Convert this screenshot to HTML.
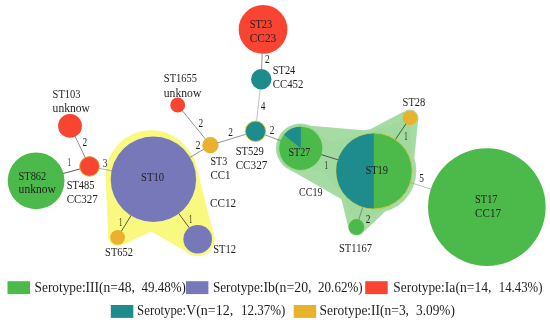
<!DOCTYPE html><html><head><meta charset="utf-8"><title>MST</title>
<style>html,body{margin:0;padding:0;background:#fff}svg{display:block;will-change:transform}text{font-family:"Liberation Serif","DejaVu Serif",serif;fill:#211d1e}</style></head><body>
<svg width="550" height="324" viewBox="0 0 550 324">
<rect width="550" height="324" fill="#fff"/>
<g fill="#f9f980">
<circle cx="151.2" cy="175.9" r="45.6"/>
<circle cx="117.2" cy="237.0" r="9.0"/>
<circle cx="197.7" cy="239.2" r="17.1"/>
<polygon points="105.7,178.0 108.2,237.0 117.6,237.4 123.9,244.2 151.2,231.4 164.0,214.0 153.6,179.0"/>
<polygon points="193.8,156.0 214.5,238.0 197.7,239.2 192.0,255.1 151.2,231.4 140.0,214.0 153.6,179.0"/>
</g>
<g fill="#a6dca4">
<circle cx="300.3" cy="148.0" r="24.4"/>
<circle cx="374.4" cy="171.0" r="42.0"/>
<circle cx="409.9" cy="117.9" r="8.5"/>
<circle cx="356.6" cy="227.2" r="8.4"/>
<polygon points="296.0,124.6 378.0,131.5 374.4,171.0 354.6,206.8 290.0,169.8 300.8,148.3"/>
<polygon points="403.3,111.7 365.0,132.1 374.4,171.0 413.9,162.3 418.3,118.3 409.9,117.9"/>
<polygon points="348.2,227.2 339.5,191.0 374.4,171.0 389.5,207.5 363.3,232.2 356.6,227.2"/>
</g>
<circle cx="300.8" cy="148.3" r="23.0" fill="#9bd799"/>
<g fill="#a0da9e">
<polygon points="336.4,171.0 336.4,169.7 336.5,168.4 336.6,167.0 336.8,165.7 337.0,164.4 337.2,163.1 337.5,161.8 337.9,160.6 338.3,159.3 338.7,158.0 339.2,156.8 339.7,155.6 340.2,154.4 340.8,153.2 341.5,152.1 342.2,150.9 342.9,149.8 343.6,148.7 344.4,147.7 345.3,146.6 346.1,145.6 347.0,144.7 348.0,143.7 348.9,142.8 349.9,142.0 351.0,141.1 352.0,140.3 353.1,139.6 354.2,138.9 355.4,138.2 356.5,137.5 357.7,136.9 358.9,136.4 360.1,135.9 361.3,135.4 409.9,117.9 409.9,117.9 409.9,117.9 409.9,117.9 409.9,117.9 409.9,117.9 409.9,117.9 409.9,117.9 409.9,117.9 409.9,117.9 409.9,117.9 409.9,117.9 409.9,117.9 409.9,117.9 409.9,117.9 409.9,117.9 409.9,117.9 409.9,117.9 409.9,117.9 409.9,117.9 409.9,117.9 409.9,117.9 409.9,117.9 409.9,117.9 409.9,117.9 409.9,117.9 409.9,117.9 409.9,117.9 409.9,117.9 409.9,117.9 409.9,117.9 409.9,117.9 409.9,117.9 409.9,117.9 409.9,117.9 409.9,117.9 409.9,117.9 409.9,117.9 409.9,117.9 409.9,117.9 409.9,117.9 409.9,117.9 409.9,117.9 409.9,117.9 409.9,117.9 409.9,117.9 409.9,117.9 409.9,117.9 409.9,117.9 409.9,117.9 409.9,117.9 409.9,117.9 409.9,117.9 409.9,117.9 409.9,117.9 412.2,169.7 412.2,171.0 412.2,172.3 412.1,173.6 412.0,175.0 411.8,176.3 411.6,177.6 411.4,178.9 411.1,180.2 410.7,181.4 410.3,182.7 409.9,184.0 409.4,185.2 408.9,186.4 408.4,187.6 407.8,188.8 407.1,189.9 406.4,191.1 405.7,192.2 405.0,193.3 404.2,194.3 403.3,195.4 402.5,196.4 401.6,197.3 400.6,198.3 399.7,199.2 398.7,200.0 397.6,200.9 396.6,201.7 395.5,202.4 394.4,203.1 393.2,203.8 392.1,204.5 390.9,205.1 389.7,205.6 388.5,206.1 387.3,206.6 386.0,207.0 384.7,207.4 383.5,207.8 382.2,208.1 380.9,208.3 379.6,208.5 378.3,208.7 376.9,208.8 375.6,208.9 374.3,208.9 373.0,208.9 371.7,208.8 370.3,208.7 369.0,208.5 367.7,208.3 366.4,208.1 365.1,207.8 363.9,207.4 362.6,207.0 361.3,206.6 360.1,206.1 358.9,205.6 357.7,205.1 356.5,204.5 355.4,203.8 354.2,203.1 353.1,202.4 352.0,201.7 351.0,200.9 349.9,200.0 348.9,199.2 348.0,198.3 347.0,197.3 346.1,196.4 345.3,195.4 344.4,194.3 343.6,193.3 342.9,192.2 342.2,191.1 341.5,189.9 340.8,188.8 340.2,187.6 339.7,186.4 339.2,185.2 338.7,184.0 338.3,182.7 337.9,181.4 337.5,180.2 337.2,178.9 337.0,177.6 336.8,176.3 336.6,175.0 336.5,173.6 336.4,172.3"/>
<polygon points="336.4,171.0 336.4,169.7 336.5,168.4 336.6,167.0 336.8,165.7 337.0,164.4 337.2,163.1 337.5,161.8 337.9,160.6 338.3,159.3 338.7,158.0 339.2,156.8 339.7,155.6 340.2,154.4 340.8,153.2 341.5,152.1 342.2,150.9 342.9,149.8 343.6,148.7 344.4,147.7 345.3,146.6 346.1,145.6 347.0,144.7 348.0,143.7 348.9,142.8 349.9,142.0 351.0,141.1 352.0,140.3 353.1,139.6 354.2,138.9 355.4,138.2 356.5,137.5 357.7,136.9 358.9,136.4 360.1,135.9 361.3,135.4 362.6,135.0 363.9,134.6 365.1,134.2 366.4,133.9 367.7,133.7 369.0,133.5 370.3,133.3 371.7,133.2 373.0,133.1 374.3,133.1 375.6,133.1 376.9,133.2 378.3,133.3 379.6,133.5 380.9,133.7 382.2,133.9 383.5,134.2 384.7,134.6 386.0,135.0 387.3,135.4 388.5,135.9 389.7,136.4 390.9,136.9 392.1,137.5 393.2,138.2 394.4,138.9 395.5,139.6 396.6,140.3 397.6,141.1 398.7,142.0 399.7,142.8 400.6,143.7 401.6,144.7 402.5,145.6 403.3,146.6 404.2,147.7 405.0,148.7 405.7,149.8 406.4,150.9 407.1,152.0 407.8,153.2 408.4,154.4 408.9,155.6 409.4,156.8 409.9,158.0 410.3,159.3 410.7,160.6 411.1,161.8 411.4,163.1 411.6,164.4 411.8,165.7 412.0,167.0 412.1,168.4 412.2,169.7 412.2,171.0 412.2,172.3 412.1,173.6 412.0,175.0 411.8,176.3 411.6,177.6 411.4,178.9 411.1,180.2 410.7,181.4 410.3,182.7 409.9,184.0 409.4,185.2 408.9,186.4 408.4,187.6 407.8,188.8 407.1,189.9 406.4,191.1 405.7,192.2 405.0,193.3 404.2,194.3 403.3,195.4 402.5,196.4 401.6,197.3 400.6,198.3 399.7,199.2 398.7,200.0 397.6,200.9 396.6,201.7 395.5,202.4 394.4,203.1 356.4,227.0 356.4,227.0 356.4,227.0 356.4,227.0 356.4,227.0 356.4,227.0 356.4,227.0 356.4,227.0 356.4,227.0 356.4,227.0 356.4,227.0 356.4,227.0 356.4,227.0 356.4,227.0 356.4,227.0 356.4,227.0 356.4,227.0 356.4,227.0 356.4,227.0 356.4,227.0 356.4,227.0 356.4,227.0 356.4,227.0 356.4,227.0 356.4,227.0 356.4,227.0 356.4,227.0 356.4,227.0 356.4,227.0 356.4,227.0 356.4,227.0 356.4,227.0 356.4,227.0 356.4,227.0 356.4,227.0 356.4,227.0 356.4,227.0 356.4,227.0 356.4,227.0 356.4,227.0 356.4,227.0 356.4,227.0 356.4,227.0 356.4,227.0 356.4,227.0 356.4,227.0 356.4,227.0 356.4,227.0 356.4,227.0 356.4,227.0 356.4,227.0 339.2,185.2 338.7,184.0 338.3,182.7 337.9,181.4 337.5,180.2 337.2,178.9 337.0,177.6 336.8,176.3 336.6,175.0 336.5,173.6 336.4,172.3"/>
<polygon points="300.8,148.3 300.8,148.3 300.8,148.3 300.8,148.3 300.8,148.3 300.8,148.3 300.8,148.3 300.8,148.3 300.8,148.3 300.8,148.3 300.8,148.3 300.8,148.3 300.8,148.3 300.8,148.3 300.8,148.3 300.8,148.3 300.8,148.3 300.8,148.3 300.8,148.3 300.8,148.3 300.8,148.3 300.8,148.3 300.8,148.3 300.8,148.3 300.8,148.3 300.8,148.3 300.8,148.3 300.8,148.3 300.8,148.3 300.8,148.3 300.8,148.3 300.8,148.3 300.8,148.3 300.8,148.3 300.8,148.3 300.8,148.3 300.8,148.3 300.8,148.3 300.8,148.3 300.8,148.3 366.4,133.9 367.7,133.7 369.0,133.5 370.3,133.3 371.7,133.2 373.0,133.1 374.3,133.1 375.6,133.1 376.9,133.2 378.3,133.3 379.6,133.5 380.9,133.7 382.2,133.9 383.5,134.2 384.7,134.6 386.0,135.0 387.3,135.4 388.5,135.9 389.7,136.4 390.9,136.9 392.1,137.5 393.2,138.2 394.4,138.9 395.5,139.6 396.6,140.3 397.6,141.1 398.7,142.0 399.7,142.8 400.6,143.7 401.6,144.7 402.5,145.6 403.3,146.6 404.2,147.7 405.0,148.7 405.7,149.8 406.4,150.9 407.1,152.0 407.8,153.2 408.4,154.4 408.9,155.6 409.4,156.8 409.9,158.0 410.3,159.3 410.7,160.6 411.1,161.8 411.4,163.1 411.6,164.4 411.8,165.7 412.0,167.0 412.1,168.4 412.2,169.7 412.2,171.0 412.2,172.3 412.1,173.6 412.0,175.0 411.8,176.3 411.6,177.6 411.4,178.9 411.1,180.2 410.7,181.4 410.3,182.7 409.9,184.0 409.4,185.2 408.9,186.4 408.4,187.6 407.8,188.8 407.1,189.9 406.4,191.1 405.7,192.2 405.0,193.3 404.2,194.3 403.3,195.4 402.5,196.4 401.6,197.3 400.6,198.3 399.7,199.2 398.7,200.0 397.6,200.9 396.6,201.7 395.5,202.4 394.4,203.1 393.2,203.8 392.1,204.5 390.9,205.1 389.7,205.6 388.5,206.1 387.3,206.6 386.0,207.0 384.7,207.4 383.5,207.8 382.2,208.1 380.9,208.3 379.6,208.5 378.3,208.7 376.9,208.8 375.6,208.9 374.3,208.9 373.0,208.9 371.7,208.8 370.3,208.7 369.0,208.5 367.7,208.3 366.4,208.1 365.1,207.8 363.9,207.4 362.6,207.0 361.3,206.6 360.1,206.1 358.9,205.6 357.7,205.1 356.5,204.5 355.4,203.8 354.2,203.1 353.1,202.4 352.0,201.7 351.0,200.9 349.9,200.0 348.9,199.2 348.0,198.3 347.0,197.3 300.8,148.3 300.8,148.3 300.8,148.3 300.8,148.3 300.8,148.3 300.8,148.3 300.8,148.3 300.8,148.3 300.8,148.3 300.8,148.3 300.8,148.3 300.8,148.3 300.8,148.3 300.8,148.3 300.8,148.3 300.8,148.3 300.8,148.3 300.8,148.3 300.8,148.3 300.8,148.3 300.8,148.3 300.8,148.3"/>
<polygon points="279.2,148.3 279.2,147.5 279.3,146.8 279.3,146.0 279.4,145.3 279.5,144.5 279.7,143.8 279.8,143.1 280.0,142.3 280.3,141.6 280.5,140.9 280.8,140.2 281.1,139.5 281.4,138.8 281.7,138.2 282.1,137.5 282.5,136.9 282.9,136.2 283.3,135.6 283.8,135.0 284.3,134.4 284.7,133.8 285.3,133.3 285.8,132.8 286.3,132.2 286.9,131.8 287.5,131.3 288.1,130.8 288.7,130.4 289.4,130.0 290.0,129.6 290.7,129.2 291.3,128.9 292.0,128.6 292.7,128.3 293.4,128.0 294.1,127.8 294.8,127.5 295.6,127.3 296.3,127.2 297.0,127.0 297.8,126.9 298.5,126.8 299.3,126.8 300.0,126.7 300.8,126.7 301.6,126.7 302.3,126.8 303.1,126.8 303.8,126.9 304.6,127.0 305.3,127.2 306.0,127.3 306.8,127.5 307.5,127.8 308.2,128.0 308.9,128.3 309.6,128.6 310.3,128.9 310.9,129.2 311.6,129.6 312.2,130.0 312.9,130.4 374.3,171.0 374.3,171.0 374.3,171.0 374.3,171.0 374.3,171.0 374.3,171.0 374.3,171.0 374.3,171.0 374.3,171.0 374.3,171.0 374.3,171.0 374.3,171.0 374.3,171.0 374.3,171.0 374.3,171.0 374.3,171.0 374.3,171.0 374.3,171.0 374.3,171.0 374.3,171.0 374.3,171.0 374.3,171.0 374.3,171.0 374.3,171.0 374.3,171.0 374.3,171.0 374.3,171.0 374.3,171.0 374.3,171.0 374.3,171.0 374.3,171.0 374.3,171.0 374.3,171.0 374.3,171.0 374.3,171.0 374.3,171.0 374.3,171.0 374.3,171.0 374.3,171.0 374.3,171.0 374.3,171.0 374.3,171.0 374.3,171.0 374.3,171.0 374.3,171.0 374.3,171.0 374.3,171.0 374.3,171.0 374.3,171.0 374.3,171.0 374.3,171.0 374.3,171.0 374.3,171.0 374.3,171.0 374.3,171.0 374.3,171.0 374.3,171.0 374.3,171.0 374.3,171.0 374.3,171.0 374.3,171.0 374.3,171.0 374.3,171.0 374.3,171.0 374.3,171.0 374.3,171.0 374.3,171.0 374.3,171.0 374.3,171.0 374.3,171.0 374.3,171.0 374.3,171.0 374.3,171.0 374.3,171.0 300.8,169.9 300.0,169.9 299.3,169.8 298.5,169.8 297.8,169.7 297.0,169.6 296.3,169.4 295.6,169.3 294.8,169.1 294.1,168.8 293.4,168.6 292.7,168.3 292.0,168.0 291.3,167.7 290.7,167.4 290.0,167.0 289.4,166.6 288.7,166.2 288.1,165.8 287.5,165.3 286.9,164.8 286.3,164.4 285.8,163.8 285.3,163.3 284.7,162.8 284.3,162.2 283.8,161.6 283.3,161.0 282.9,160.4 282.5,159.7 282.1,159.1 281.7,158.4 281.4,157.8 281.1,157.1 280.8,156.4 280.5,155.7 280.3,155.0 280.0,154.3 279.8,153.5 279.7,152.8 279.5,152.1 279.4,151.3 279.3,150.6 279.3,149.8 279.2,149.1"/>
</g>
<g fill="none">
<line x1="36.1" y1="180.8" x2="89.5" y2="166.4" stroke="#3a3a3a" stroke-width="0.85"/>
<line x1="70.0" y1="125.9" x2="89.5" y2="166.4" stroke="#707070" stroke-width="0.75"/>
<line x1="89.5" y1="166.4" x2="153.4" y2="179.2" stroke="#8e8e8e" stroke-width="0.7"/>
<line x1="153.4" y1="179.2" x2="117.6" y2="237.4" stroke="#3a3a3a" stroke-width="0.85"/>
<line x1="153.4" y1="179.2" x2="197.7" y2="239.2" stroke="#3a3a3a" stroke-width="0.85"/>
<line x1="153.4" y1="179.2" x2="210.4" y2="145.2" stroke="#707070" stroke-width="0.75"/>
<line x1="210.4" y1="145.2" x2="177.7" y2="105.0" stroke="#707070" stroke-width="0.75"/>
<line x1="210.4" y1="145.2" x2="255.5" y2="131.3" stroke="#707070" stroke-width="0.75"/>
<line x1="255.5" y1="131.3" x2="261.2" y2="79.3" stroke="#a8a8a8" stroke-width="0.7"/>
<line x1="261.2" y1="79.3" x2="263.1" y2="29.4" stroke="#707070" stroke-width="0.75"/>
<line x1="255.5" y1="131.3" x2="300.8" y2="148.3" stroke="#707070" stroke-width="0.75"/>
<line x1="300.8" y1="148.3" x2="374.3" y2="171.0" stroke="#3a3a3a" stroke-width="0.85"/>
<line x1="374.3" y1="171.0" x2="409.9" y2="117.9" stroke="#3a3a3a" stroke-width="0.85"/>
<line x1="374.3" y1="171.0" x2="356.4" y2="227.0" stroke="#707070" stroke-width="0.75"/>
<line x1="374.3" y1="171.0" x2="486.9" y2="207.1" stroke="#a0a0a0" stroke-width="0.7"/>
</g>
<circle cx="36.10" cy="180.80" r="28.40" fill="#4cba4a"/>
<circle cx="70.00" cy="125.90" r="11.90" fill="#f94432"/>
<circle cx="89.50" cy="166.40" r="9.80" fill="#f94432" stroke="#d2a62c" stroke-width="0.9"/>
<circle cx="153.40" cy="179.20" r="42.70" fill="#7678ba"/>
<circle cx="117.60" cy="237.40" r="7.40" fill="#e8b22c"/>
<circle cx="197.70" cy="239.20" r="14.30" fill="#7678ba"/>
<circle cx="210.40" cy="145.20" r="8.15" fill="#e8b22c"/>
<circle cx="177.70" cy="105.05" r="7.45" fill="#f94432"/>
<circle cx="255.50" cy="131.30" r="10.25" fill="#1e8c8c" stroke="#e6d23a" stroke-width="0.9"/>
<circle cx="261.25" cy="79.30" r="10.20" fill="#1e8c8c"/>
<circle cx="263.05" cy="29.40" r="24.40" fill="#f94432"/>
<circle cx="300.80" cy="148.30" r="21.60" fill="#4cba4a"/>
<circle cx="374.30" cy="171.00" r="37.90" fill="#4cba4a" stroke="#cdc63e" stroke-width="1.0"/>
<circle cx="409.90" cy="117.90" r="7.30" fill="#e8b22c"/>
<circle cx="356.40" cy="227.00" r="7.90" fill="#4cba4a"/>
<circle cx="486.85" cy="207.10" r="58.80" fill="#4cba4a"/>
<path d="M300.80,148.30 L300.80,126.70 A21.60,21.60 0 0 0 283.91,134.83 Z" fill="#1e8c8c"/>
<path d="M373.80,133.40 A37.60,37.60 0 0 0 373.80,208.60 Z" fill="#1e8c8c"/>
<text x="18.50" y="180.00" font-size="12" textLength="27.80" lengthAdjust="spacingAndGlyphs">ST862</text>
<text x="18.60" y="193.00" font-size="12" textLength="37.30" lengthAdjust="spacingAndGlyphs">unknow</text>
<text x="52.60" y="98.00" font-size="12" textLength="27.80" lengthAdjust="spacingAndGlyphs">ST103</text>
<text x="52.60" y="112.00" font-size="12" textLength="37.30" lengthAdjust="spacingAndGlyphs">unknow</text>
<text x="66.70" y="189.00" font-size="12" textLength="27.80" lengthAdjust="spacingAndGlyphs">ST485</text>
<text x="66.70" y="203.00" font-size="12" textLength="31.10" lengthAdjust="spacingAndGlyphs">CC327</text>
<text x="141.10" y="181.00" font-size="12" textLength="23.00" lengthAdjust="spacingAndGlyphs">ST10</text>
<text x="105.10" y="256.00" font-size="12" textLength="27.90" lengthAdjust="spacingAndGlyphs">ST652</text>
<text x="213.20" y="253.00" font-size="12" textLength="22.80" lengthAdjust="spacingAndGlyphs">ST12</text>
<text x="210.00" y="207.00" font-size="12" textLength="26.10" lengthAdjust="spacingAndGlyphs">CC12</text>
<text x="210.40" y="165.00" font-size="12" textLength="16.80" lengthAdjust="spacingAndGlyphs">ST3</text>
<text x="210.40" y="179.00" font-size="12" textLength="20.10" lengthAdjust="spacingAndGlyphs">CC1</text>
<text x="163.80" y="82.00" font-size="12" textLength="33.30" lengthAdjust="spacingAndGlyphs">ST1655</text>
<text x="163.80" y="97.00" font-size="12" textLength="37.50" lengthAdjust="spacingAndGlyphs">unknow</text>
<text x="235.65" y="155.00" font-size="12" textLength="28.15" lengthAdjust="spacingAndGlyphs">ST529</text>
<text x="235.65" y="169.00" font-size="12" textLength="31.75" lengthAdjust="spacingAndGlyphs">CC327</text>
<text x="272.85" y="74.00" font-size="12" textLength="22.45" lengthAdjust="spacingAndGlyphs">ST24</text>
<text x="272.85" y="88.00" font-size="12" textLength="30.45" lengthAdjust="spacingAndGlyphs">CC452</text>
<text x="249.70" y="28.00" font-size="12" textLength="22.40" lengthAdjust="spacingAndGlyphs">ST23</text>
<text x="249.70" y="42.00" font-size="12" textLength="26.60" lengthAdjust="spacingAndGlyphs">CC23</text>
<text x="288.50" y="156.00" font-size="12" textLength="21.80" lengthAdjust="spacingAndGlyphs">ST27</text>
<text x="365.40" y="174.00" font-size="12" textLength="22.65" lengthAdjust="spacingAndGlyphs">ST19</text>
<text x="402.60" y="106.00" font-size="12" textLength="22.70" lengthAdjust="spacingAndGlyphs">ST28</text>
<text x="339.00" y="252.00" font-size="12" textLength="32.90" lengthAdjust="spacingAndGlyphs">ST1167</text>
<text x="299.00" y="196.00" font-size="12" textLength="23.60" lengthAdjust="spacingAndGlyphs">CC19</text>
<text x="475.10" y="203.00" font-size="12" textLength="22.40" lengthAdjust="spacingAndGlyphs">ST17</text>
<text x="475.10" y="217.00" font-size="12" textLength="25.90" lengthAdjust="spacingAndGlyphs">CC17</text>
<text x="67.60" y="165.60" font-size="11.8" textLength="3.4" lengthAdjust="spacingAndGlyphs">1</text>
<text x="82.60" y="145.90" font-size="11.8" textLength="4.7" lengthAdjust="spacingAndGlyphs">2</text>
<text x="102.70" y="166.90" font-size="11.8" textLength="4.7" lengthAdjust="spacingAndGlyphs">3</text>
<text x="119.10" y="226.00" font-size="11.8" textLength="3.4" lengthAdjust="spacingAndGlyphs">1</text>
<text x="189.00" y="222.50" font-size="11.8" textLength="3.4" lengthAdjust="spacingAndGlyphs">1</text>
<text x="195.70" y="148.90" font-size="11.8" textLength="4.7" lengthAdjust="spacingAndGlyphs">2</text>
<text x="198.40" y="127.15" font-size="11.8" textLength="4.7" lengthAdjust="spacingAndGlyphs">2</text>
<text x="228.30" y="136.00" font-size="11.8" textLength="4.7" lengthAdjust="spacingAndGlyphs">2</text>
<text x="260.80" y="109.90" font-size="11.8" textLength="4.7" lengthAdjust="spacingAndGlyphs">4</text>
<text x="265.00" y="62.60" font-size="11.8" textLength="4.7" lengthAdjust="spacingAndGlyphs">2</text>
<text x="269.80" y="133.80" font-size="11.8" textLength="4.7" lengthAdjust="spacingAndGlyphs">2</text>
<text x="324.40" y="168.50" font-size="11.8" textLength="3.4" lengthAdjust="spacingAndGlyphs">1</text>
<text x="404.30" y="139.60" font-size="11.8" textLength="3.4" lengthAdjust="spacingAndGlyphs">1</text>
<text x="365.70" y="222.80" font-size="11.8" textLength="4.7" lengthAdjust="spacingAndGlyphs">2</text>
<text x="419.30" y="181.75" font-size="11.8" textLength="4.7" lengthAdjust="spacingAndGlyphs">5</text>
<rect x="7.5" y="281.2" width="22.5" height="12.9" fill="#4cba4a"/>
<text y="292.0" font-size="14.3"><tspan x="34.6" textLength="51.0" lengthAdjust="spacingAndGlyphs">Serotype:</tspan><tspan x="85.6" textLength="49.3" lengthAdjust="spacingAndGlyphs">III(n=48,</tspan> <tspan x="141.5" textLength="44.4" lengthAdjust="spacingAndGlyphs">49.48%)</tspan></text>
<rect x="185.9" y="281.2" width="22.5" height="12.9" fill="#7678ba"/>
<text y="292.0" font-size="14.3"><tspan x="212.9" textLength="50.6" lengthAdjust="spacingAndGlyphs">Serotype:</tspan><tspan x="263.5" textLength="48.0" lengthAdjust="spacingAndGlyphs">Ib(n=20,</tspan> <tspan x="318.1" textLength="44.5" lengthAdjust="spacingAndGlyphs">20.62%)</tspan></text>
<rect x="365.2" y="281.2" width="22.5" height="12.9" fill="#f94432"/>
<text y="292.0" font-size="14.3"><tspan x="393.3" textLength="51.5" lengthAdjust="spacingAndGlyphs">Serotype:</tspan><tspan x="444.8" textLength="46.7" lengthAdjust="spacingAndGlyphs">Ia(n=14,</tspan> <tspan x="498.8" textLength="43.6" lengthAdjust="spacingAndGlyphs">14.43%)</tspan></text>
<rect x="110.8" y="305.0" width="22.5" height="12.9" fill="#1e8c8c"/>
<text y="315.4" font-size="14.3"><tspan x="137.1" textLength="49.0" lengthAdjust="spacingAndGlyphs">Serotype:</tspan><tspan x="186.1" textLength="47.1" lengthAdjust="spacingAndGlyphs">V(n=12,</tspan> <tspan x="241.0" textLength="44.3" lengthAdjust="spacingAndGlyphs">12.37%)</tspan></text>
<rect x="293.7" y="305.0" width="22.5" height="12.9" fill="#e8b22c"/>
<text y="315.4" font-size="14.3"><tspan x="319.6" textLength="51.5" lengthAdjust="spacingAndGlyphs">Serotype:</tspan><tspan x="371.1" textLength="37.9" lengthAdjust="spacingAndGlyphs">II(n=3,</tspan> <tspan x="416.0" textLength="38.9" lengthAdjust="spacingAndGlyphs">3.09%)</tspan></text>
</svg></body></html>
